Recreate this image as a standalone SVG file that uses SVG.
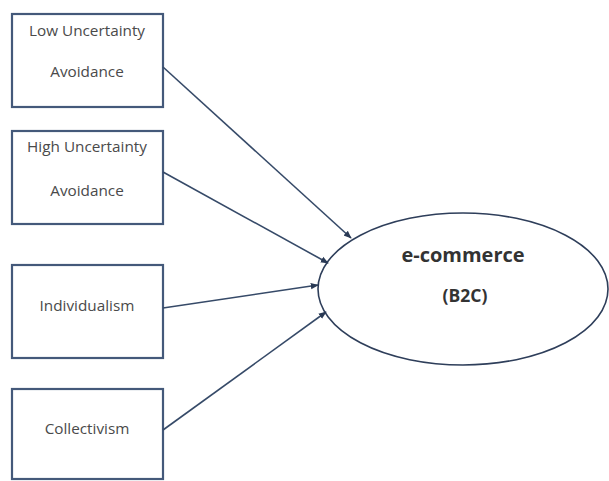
<svg xmlns="http://www.w3.org/2000/svg" width="609" height="481" viewBox="0 0 609 481">
<style>
.box{fill:#fff;stroke:#44597a;stroke-width:2.2}
.lbl{font-family:"Open Sans","Liberation Sans",sans-serif;font-size:15.3px;fill:#4a4a4a;text-anchor:middle}
.big{font-family:"Open Sans","Liberation Sans",sans-serif;font-weight:bold;fill:#333;text-anchor:middle}
.edge{stroke:#364a68;stroke-width:1.6;fill:none;marker-end:url(#ah)}
</style>
<defs>
<marker id="ah" viewBox="0 0 10 10" refX="9" refY="5" markerWidth="5" markerHeight="5" orient="auto">
<path d="M0,1 L10,5 L0,9 z" fill="#2a3a55"/>
</marker>
</defs>
<rect width="609" height="481" fill="#fff"/>
<g id="low">
<rect class="box" x="12" y="14" width="151" height="93"/>
<text class="lbl" x="87" y="36">Low Uncertainty</text>
<text class="lbl" x="87" y="77">Avoidance</text>
</g>
<g id="high">
<rect class="box" x="12" y="131" width="151" height="93"/>
<text class="lbl" x="87" y="152">High Uncertainty</text>
<text class="lbl" x="87" y="196">Avoidance</text>
</g>
<g id="indiv">
<rect class="box" x="12" y="265" width="151" height="93"/>
<text class="lbl" x="87" y="311">Individualism</text>
</g>
<g id="coll">
<rect class="box" x="12" y="389" width="151" height="90"/>
<text class="lbl" x="87" y="434">Collectivism</text>
</g>
<g id="ecom">
<ellipse cx="463" cy="289" rx="145" ry="76" fill="#fff" stroke="#2e3e5a" stroke-width="1.6"/>
<text class="big" x="463" y="262" font-size="20">e-commerce</text>
<text class="big" x="465" y="302" font-size="17.5">(B2C)</text>
</g>
<g id="connectors">
<line class="edge" x1="163" y1="67" x2="351" y2="238"/>
<line class="edge" x1="163" y1="172" x2="328" y2="263"/>
<line class="edge" x1="163" y1="308" x2="318" y2="285"/>
<line class="edge" x1="163" y1="430" x2="326" y2="312"/>
</g>
</svg>
